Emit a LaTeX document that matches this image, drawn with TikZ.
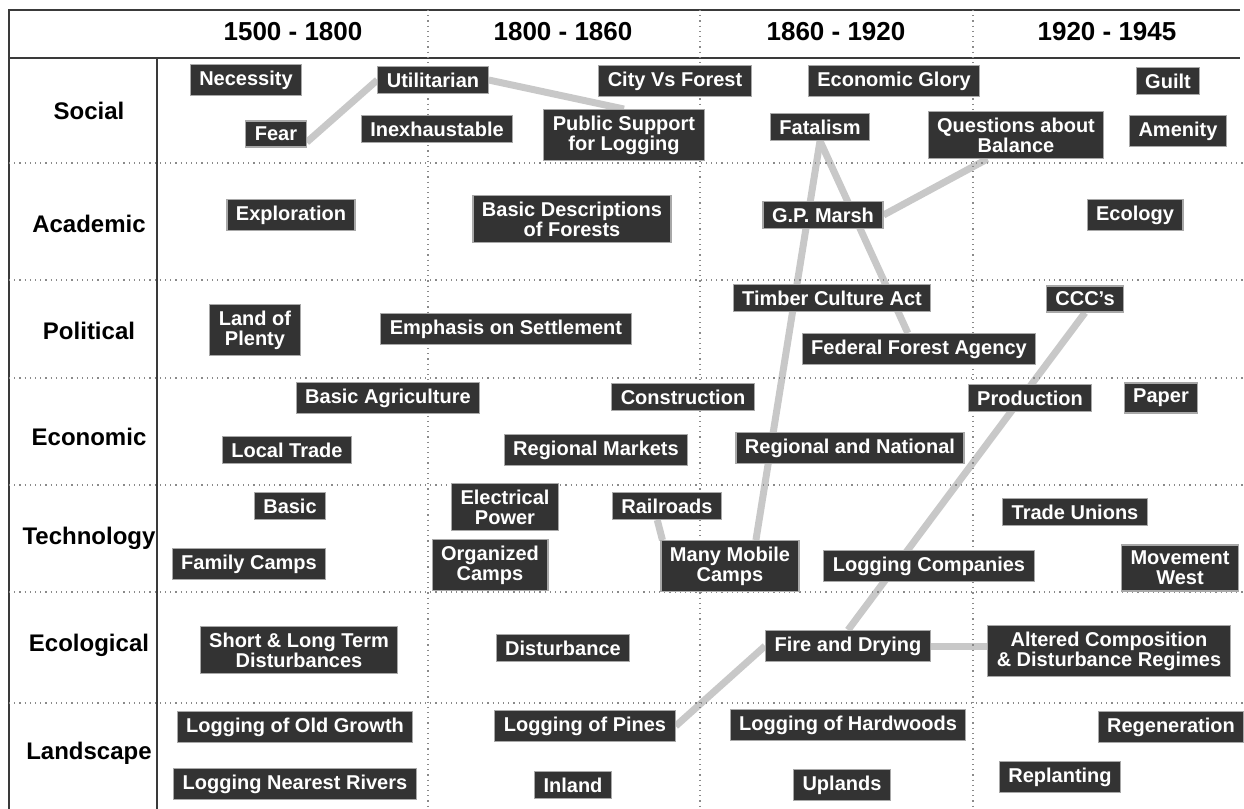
\documentclass[tikz,border=0pt]{standalone}
\usepackage{fontspec}
\setmainfont{Liberation Sans}
\usepackage{tikz}
\pgfdeclarelayer{links}
\pgfsetlayers{links,main}
\definecolor{boxfill}{HTML}{333333}
\definecolor{boxline}{HTML}{A8A8A8}
\definecolor{linkgray}{HTML}{C8C8C8}
\definecolor{gridline}{HTML}{3A3A3A}
\definecolor{sepgray}{HTML}{8A8A8A}
\tikzset{
  item/.style={draw=boxline, line width=0.6pt, fill=boxfill, text=white,
    font=\fontsize{10}{10}\selectfont\bfseries, inner xsep=4.5pt, inner ysep=3pt, align=center},
  era/.style={font=\fontsize{13}{15}\selectfont\bfseries},
  theme/.style={font=\fontsize{12}{14}\selectfont\bfseries},
  link/.style={draw=linkgray, line width=3.5pt},
  rule/.style={draw=gridline, line width=1pt},
  sep/.style={draw=sepgray, dotted, line width=0.6pt}
}

\begin{document}
\begin{tikzpicture}[x=0.5pt,y=-0.5pt]
\useasboundingbox (0,0) rectangle (1244,809);
\draw[rule] (1240,10) -- (9,10) -- (9,809);
\draw[rule] (9,58) -- (1240,58);
\draw[rule] (157,58) -- (157,809);
\foreach \x in {428,700,973} \draw[sep] (\x,10) -- (\x,809);
\foreach \y in {163,280,378,485,592,703} \draw[sep] (9,\y) -- (1244,\y);
\foreach \x/\t [count=\i] in {293/1500 - 1800,563/1800 - 1860,836/1860 - 1920,1107/1920 - 1945}
  \node[era] (era\i) at (\x,32) {\t};
\foreach \y/\t [count=\i] in {111/Social,224/Academic,331/Political,437/Economic,538/Technology,645/Ecological,753/Landscape}
  \node[theme] (theme\i) at (89,\y) {\t};

\node[item] (necessity) at (246,80) {Necessity};
\node[item] (utilitarian) at (433,80) {Utilitarian};
\node[item] (fear) at (276,134) {Fear};
\node[item] (inexhaust) at (437,129) {Inexhaustable};
\node[item] (cityforest) at (675,81) {City Vs Forest};
\node[item] (support) at (624,135) {Public Support\\for Logging};
\node[item] (glory) at (894,81) {Economic Glory};
\node[item] (fatalism) at (820,127) {Fatalism};
\node[item] (balance) at (1016,135) {Questions about\\Balance};
\node[item] (guilt) at (1168,81) {Guilt};
\node[item] (amenity) at (1178,131) {Amenity};

\node[item] (exploration) at (291,215) {Exploration};
\node[item] (descriptions) at (572,219) {Basic Descriptions\\of Forests};
\node[item] (marsh) at (823,215) {G.P. Marsh};
\node[item] (ecology) at (1135,215) {Ecology};

\node[item] (plenty) at (255,330) {Land of\\Plenty};
\node[item] (settlement) at (506,329) {Emphasis on Settlement};
\node[item] (timber) at (832,298) {Timber Culture Act};
\node[item] (agency) at (919,349) {Federal Forest Agency};
\node[item] (ccc) at (1085,299) {CCC's};

\node[item] (agriculture) at (388,398) {Basic Agriculture};
\node[item] (construction) at (683,397) {Construction};
\node[item] (localtrade) at (287,450) {Local Trade};
\node[item] (regmarkets) at (596,450) {Regional Markets};
\node[item] (regnational) at (850,448) {Regional and National};
\node[item] (production) at (1030,398) {Production};
\node[item] (paper) at (1161,398) {Paper};

\node[item] (basic) at (290,506) {Basic};
\node[item] (familycamps) at (249,564) {Family Camps};
\node[item] (electrical) at (505,507) {Electrical\\Power};
\node[item] (organized) at (490,565) {Organized\\Camps};
\node[item] (railroads) at (667,506) {Railroads};
\node[item] (mobile) at (730,566) {Many Mobile\\Camps};
\node[item] (companies) at (929,566) {Logging Companies};
\node[item] (unions) at (1075,512) {Trade Unions};
\node[item] (movement) at (1180,568) {Movement\\West};

\node[item] (shortlong) at (299,650) {Short \& Long Term\\Disturbances};
\node[item] (disturbance) at (563,648) {Disturbance};
\node[item] (fire) at (848,646) {Fire and Drying};
\node[item] (altered) at (1109,651) {Altered Composition\\\& Disturbance Regimes};

\node[item] (oldgrowth) at (295,727) {Logging of Old Growth};
\node[item] (rivers) at (295,784) {Logging Nearest Rivers};
\node[item] (pines) at (585,726) {Logging of Pines};
\node[item] (inland) at (573,785) {Inland};
\node[item] (hardwoods) at (848,725) {Logging of Hardwoods};
\node[item] (uplands) at (842,785) {Uplands};
\node[item] (regeneration) at (1171,727) {Regeneration};
\node[item] (replanting) at (1060,777) {Replanting};

\begin{pgfonlayer}{links}
\draw[link] (fear.-15) -- (utilitarian.west);
\draw[link] (utilitarian.east) -- (support.north);
\draw[link] (fatalism.south) -- (mobile.45);
\draw[link] (fatalism.south) -- (agency.125);
\draw[link] (marsh.east) -- (balance.220);
\draw[link] (railroads.235) -- (mobile.159);
\draw[link] (ccc.south) -- (fire.north);
\draw[link] (fire.west) -- (pines.east);
\draw[link] (fire.east) -- (fire.east -| altered.west);
\end{pgfonlayer}
\end{tikzpicture}
\end{document}
